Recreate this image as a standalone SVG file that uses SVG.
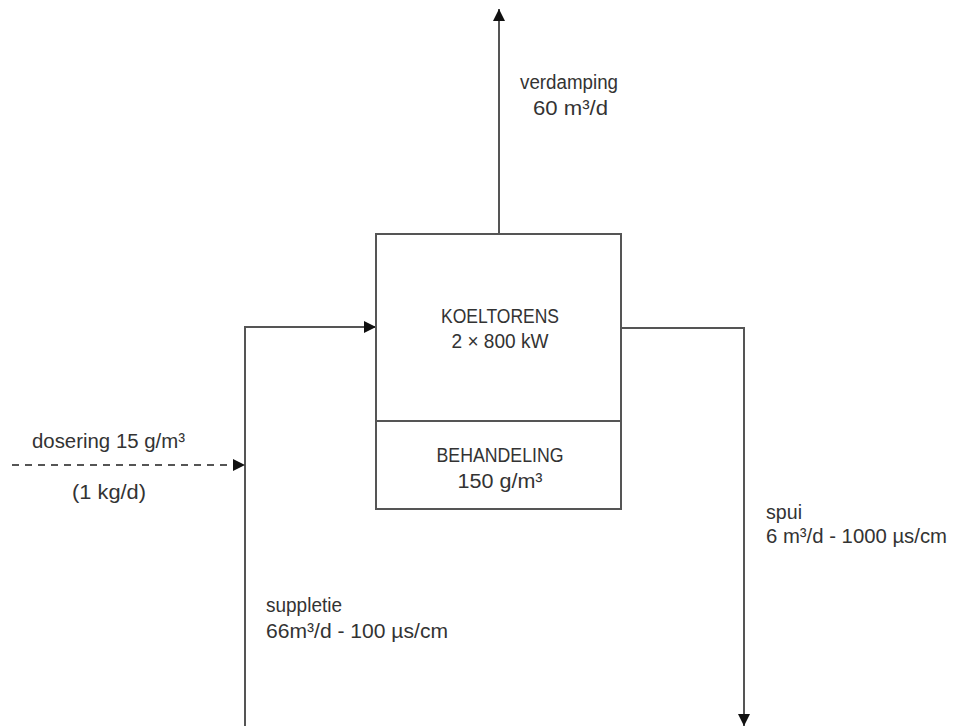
<svg xmlns="http://www.w3.org/2000/svg" width="954" height="726" viewBox="0 0 954 726">
<style>
.ln{fill:none;stroke:#555;stroke-width:2}
.dash{fill:none;stroke:#555;stroke-width:2;stroke-dasharray:7 6}
.box{fill:#fff;stroke:#555;stroke-width:2}
text{font-family:"Liberation Sans",Arial,sans-serif;font-size:20px;fill:#333}
.c{text-anchor:middle}
</style>
<defs>
<marker id="ah" viewBox="0 0 12 12" refX="12" refY="6" markerWidth="12" markerHeight="12" markerUnits="userSpaceOnUse" orient="auto">
<path d="M0,0 L12,6 L0,12 Z" fill="#111"/>
</marker>
</defs>
<g id="connectors">
<path class="ln" d="M499,234 V9" marker-end="url(#ah)"/>
<path class="ln" d="M245,726 V327 H376" marker-end="url(#ah)"/>
<path class="dash" d="M12,465 H245" marker-end="url(#ah)"/>
<path class="ln" d="M621,328 H744 V726" marker-end="url(#ah)"/>
</g>
<g id="koeltorens">
<rect class="box" x="376" y="234" width="245" height="187"/>
<text class="c" x="500" y="323" textLength="118" lengthAdjust="spacingAndGlyphs">KOELTORENS</text>
<text class="c" x="500" y="348" textLength="97" lengthAdjust="spacingAndGlyphs">2 × 800 kW</text>
</g>
<g id="behandeling">
<rect class="box" x="376" y="421" width="245" height="88"/>
<text class="c" x="500" y="462" textLength="127" lengthAdjust="spacingAndGlyphs">BEHANDELING</text>
<text class="c" x="500" y="488" textLength="85" lengthAdjust="spacingAndGlyphs">150 g/m³</text>
</g>
<g id="labels">
<text x="520" y="89" textLength="98" lengthAdjust="spacingAndGlyphs">verdamping</text>
<text x="533" y="115" textLength="75" lengthAdjust="spacingAndGlyphs">60 m³/d</text>
<text x="32" y="448" textLength="153" lengthAdjust="spacingAndGlyphs">dosering 15 g/m³</text>
<text x="72" y="499" textLength="74" lengthAdjust="spacingAndGlyphs">(1 kg/d)</text>
<text x="266" y="612" textLength="76" lengthAdjust="spacingAndGlyphs">suppletie</text>
<text x="266" y="638" textLength="182" lengthAdjust="spacingAndGlyphs">66m³/d - 100 µs/cm</text>
<text x="766" y="519" textLength="36" lengthAdjust="spacingAndGlyphs">spui</text>
<text x="766" y="543" textLength="181" lengthAdjust="spacingAndGlyphs">6 m³/d - 1000 µs/cm</text>
</g>
</svg>
